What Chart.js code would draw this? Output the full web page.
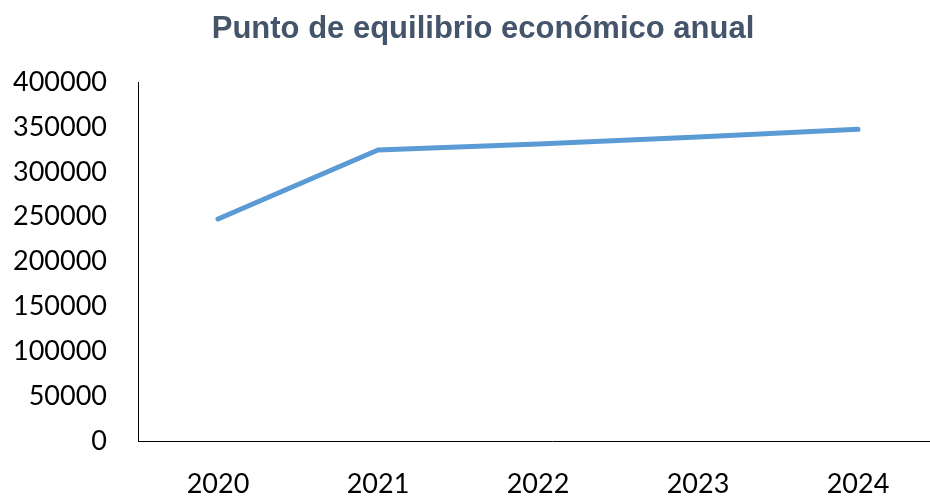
<!DOCTYPE html>
<html>
<head>
<meta charset="utf-8">
<script src="https://cdn.jsdelivr.net/npm/chart.js@4"></script>
<style>
  html, body { margin: 0; padding: 0; background: #fff; overflow: hidden; }
  #wrap { width: 930px; height: 496px; overflow: hidden; }
</style>
</head>
<body>
<div id="wrap"><canvas id="chart" width="966" height="496"></canvas></div>
<script>
const years = [2020, 2021, 2022, 2023, 2024];
const values = [247500, 324500, 331000, 339000, 347500];
const yTicks = [0, 50000, 100000, 150000, 200000, 250000, 300000, 350000, 400000];
const title = 'Punto de equilibrio económico anual';

const points = years.map((y, i) => ({ x: y, y: values[i] }));

new Chart(document.getElementById('chart'), {
  type: 'line',
  data: {
    datasets: [{
      data: points,
      borderColor: '#5B9BD5',
      borderWidth: 5,
      borderCapStyle: 'round',
      borderJoinStyle: 'round',
      pointRadius: 0,
      tension: 0,
      fill: false
    }]
  },
  options: {
    responsive: false,
    animation: false,
    devicePixelRatio: 1,
    layout: { padding: 0 },
    plugins: {
      legend: { display: false },
      tooltip: { enabled: false },
      title: {
        display: true,
        text: title,
        color: '#44546A',
        font: { family: '"Liberation Sans", Arial, sans-serif', size: 31, weight: 'bold' },
        padding: { top: 11, bottom: 34 }
      }
    },
    scales: {
      x: {
        type: 'linear',
        min: 2019.5,
        max: 2024.675,
        grid: { display: false, drawTicks: false },
        border: { display: true, color: '#000', width: 1 },
        afterBuildTicks: s => { s.ticks = years.map(v => ({ value: v })); },
        afterFit: s => { s.height = 55; },
        ticks: {
          color: '#000',
          padding: 27,
          maxRotation: 0,
          autoSkip: false,
          font: { family: 'Lato, "Noto Sans", sans-serif', size: 27 },
          callback: v => String(v)
        }
      },
      y: {
        min: 0,
        max: 400000,
        grid: { display: false, drawTicks: false },
        border: { display: true, color: '#000', width: 1 },
        afterBuildTicks: s => { s.ticks = yTicks.map(v => ({ value: v })); },
        afterFit: s => { s.width = 138; },
        ticks: {
          color: '#000',
          padding: 31,
          font: { family: 'Lato, "Noto Sans", sans-serif', size: 27 },
          callback: v => String(v)
        }
      }
    }
  }
});
</script>
</body>
</html>
